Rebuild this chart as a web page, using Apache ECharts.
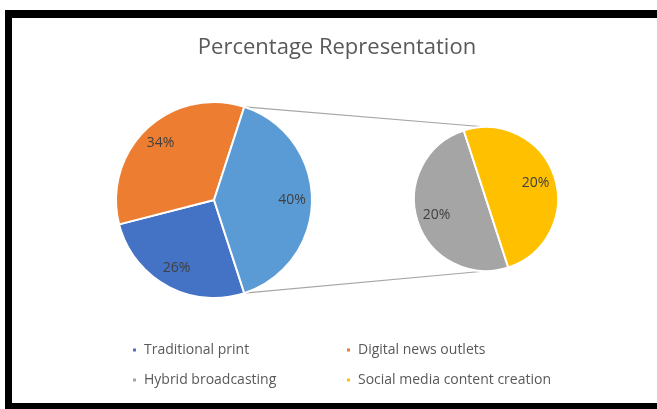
<!DOCTYPE html>
<html><head><meta charset="utf-8">
<script src="https://cdn.jsdelivr.net/npm/echarts@6/dist/echarts.min.js"></script>
<style>html,body{margin:0;padding:0;background:#fff}#c{width:657px;height:409px}</style>
</head><body><div id="c"></div><script>
const chartTitle = 'Percentage Representation';
const mainCategories = ['Traditional print', 'Digital news outlets'];
const mainValues = [26, 34];
const subCategories = ['Hybrid broadcasting', 'Social media content creation'];
const subValues = [20, 20];
const otherName = 'Other';
const mainColors = ['#4472C4', '#ED7D31', '#5B9BD5'];
const subColors = ['#A5A5A5', '#FFC000'];

const FONT = '"Open Sans", Lato, sans-serif';
const mainCenter = [214, 200], mainR = 98;
const subCenter = [486, 199], subR = 72;
const startAngle = -72; // ECharts degrees (counter-clockwise from 3 o'clock)

const otherValue = subValues.reduce((a, b) => a + b, 0);
const mainData = mainCategories.map((n, i) => ({ name: n, value: mainValues[i], itemStyle: { color: mainColors[i] } }))
  .concat([{ name: otherName, value: otherValue, itemStyle: { color: mainColors[2] } }]);
const subData = subCategories.map((n, i) => ({ name: n, value: subValues[i], itemStyle: { color: subColors[i] } }));
const labelMain = mainData.map(d => ({ name: d.name, value: d.value }));
const labelSub = subData.map(d => ({ name: d.name, value: d.value }));

// connector endpoints derived from pie geometry & data
const total = mainData.reduce((a, d) => a + d.value, 0);
const otherStartDeg = startAngle - (total - otherValue) / total * 360;
const otherEndDeg = startAngle - 360;
function pt(c, r, deg) { const a = deg * Math.PI / 180; return [c[0] + r * Math.cos(a), c[1] - r * Math.sin(a)]; }
const pTop = pt(mainCenter, mainR, otherStartDeg);
const pBot = pt(mainCenter, mainR, otherEndDeg);
const sTop = [subCenter[0], subCenter[1] - subR];
const sBot = [subCenter[0], subCenter[1] + subR];

const labelStyle = { show: true, position: 'inside', formatter: '{c}%', color: '#404040', fontSize: 14, fontFamily: FONT };
const ghostStyle = { color: 'rgba(0,0,0,0)', borderWidth: 0, borderColor: 'rgba(0,0,0,0)' };

function legendAt(name, left, top) {
  return {
    data: [name], left: left, top: top, padding: 0, orient: 'horizontal',
    icon: 'rect', itemWidth: 5, itemHeight: 5, itemGap: 0, selectedMode: false,
    textStyle: { color: '#595959', fontSize: 14, fontFamily: FONT, lineHeight: 18, padding: [0, 0, 0, 2] }
  };
}

const option = {
  animation: false,
  backgroundColor: '#fff',
  legend: [
    legendAt(mainCategories[0], 131, 341),
    legendAt(mainCategories[1], 345, 341),
    legendAt(subCategories[0], 131, 371),
    legendAt(subCategories[1], 345, 371)
  ],
  series: [
    { type: 'pie', center: mainCenter, radius: [0, mainR], startAngle: startAngle, data: mainData,
      label: { show: false }, labelLine: { show: false },
      itemStyle: { borderColor: '#fff', borderWidth: 2 }, emphasis: { disabled: true } },
    { type: 'pie', center: mainCenter, radius: [52, mainR], startAngle: startAngle, data: labelMain, silent: true,
      itemStyle: ghostStyle, label: labelStyle, labelLine: { show: false }, legendHoverLink: false, emphasis: { disabled: true } },
    { type: 'pie', center: subCenter, radius: [0, subR], startAngle: startAngle, data: subData,
      label: { show: false }, labelLine: { show: false },
      itemStyle: { borderColor: '#fff', borderWidth: 2 }, emphasis: { disabled: true } },
    { type: 'pie', center: subCenter, radius: [26, subR], startAngle: startAngle, data: labelSub, silent: true,
      itemStyle: ghostStyle, label: labelStyle, labelLine: { show: false }, legendHoverLink: false, emphasis: { disabled: true } }
  ],
  graphic: [
    { type: 'rect', shape: { x: 5, y: 10, width: 652, height: 8 }, style: { fill: '#000' } },
    { type: 'rect', shape: { x: 5, y: 10, width: 7, height: 399 }, style: { fill: '#000' } },
    { type: 'rect', shape: { x: 5, y: 403, width: 652, height: 6 }, style: { fill: '#000' } },
    { type: 'text', x: 337, y: 48, style: { text: chartTitle, align: 'center', verticalAlign: 'middle', fill: '#595959', fontSize: 22, fontFamily: FONT } },
    { type: 'line', shape: { x1: pTop[0], y1: pTop[1], x2: sTop[0], y2: sTop[1] }, style: { stroke: '#A6A6A6', lineWidth: 1.2 } },
    { type: 'line', shape: { x1: pBot[0], y1: pBot[1], x2: sBot[0], y2: sBot[1] }, style: { stroke: '#A6A6A6', lineWidth: 1.2 } }
  ]
};
echarts.init(document.getElementById('c'), null, { renderer: 'canvas' }).setOption(option);
</script></body></html>
